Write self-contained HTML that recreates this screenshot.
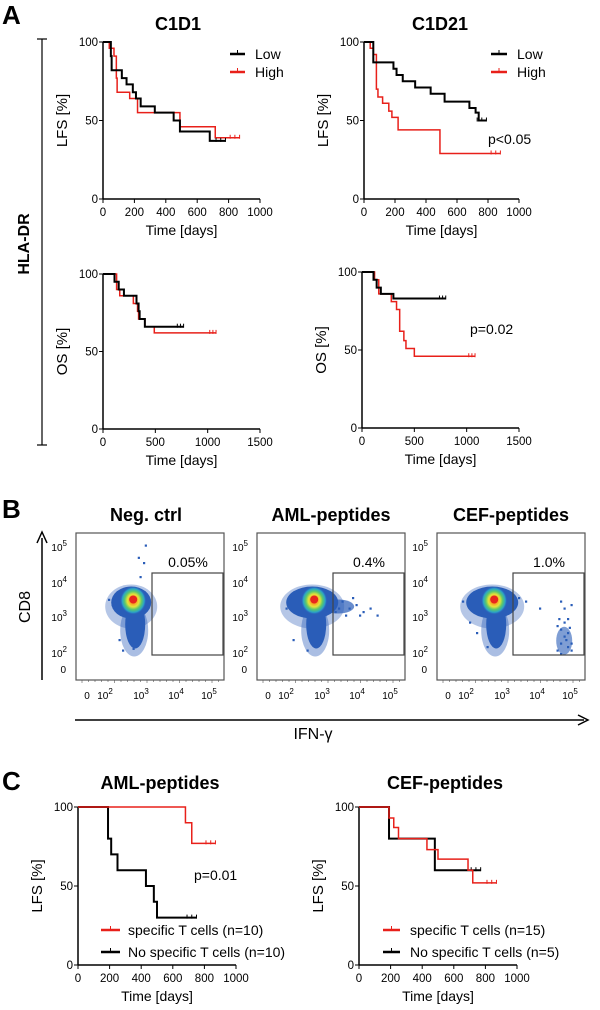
<!DOCTYPE html>
<html><head><meta charset="utf-8"><style>
body{margin:0;background:#fff}
svg{display:block;font-family:"Liberation Sans",Arial,sans-serif}
</style></head><body>
<svg id="fig" width="600" height="1010" viewBox="0 0 600 1010" xmlns="http://www.w3.org/2000/svg">
<defs>
<radialGradient id="core" cx="50%" cy="50%" r="50%">
<stop offset="0" stop-color="#e8261c"/><stop offset="0.25" stop-color="#f5a623"/><stop offset="0.45" stop-color="#e6e23a"/><stop offset="0.65" stop-color="#5cc86b"/><stop offset="0.85" stop-color="#2aa3c8"/><stop offset="1" stop-color="#2a66c0" stop-opacity="0"/>
</radialGradient>
</defs>
<g font-weight="bold">
<text x="2" y="24" font-size="26">A</text>
<text x="2" y="518" font-size="26">B</text>
<text x="2" y="790" font-size="26">C</text>
<text x="178" y="30" font-size="18" text-anchor="middle">C1D1</text>
<text x="440" y="30" font-size="18" text-anchor="middle">C1D21</text>
<text x="146" y="521" font-size="18" text-anchor="middle">Neg. ctrl</text>
<text x="331" y="521" font-size="18" text-anchor="middle">AML-peptides</text>
<text x="511" y="521" font-size="18" text-anchor="middle">CEF-peptides</text>
<text x="160" y="789" font-size="18" text-anchor="middle">AML-peptides</text>
<text x="445" y="789" font-size="18" text-anchor="middle">CEF-peptides</text>
<text transform="translate(29,244) rotate(-90)" font-size="16" text-anchor="middle">HLA-DR</text>
</g>
<g stroke="#000" stroke-width="1.2">
<line x1="42" y1="39" x2="42" y2="445"/><line x1="37" y1="39" x2="47" y2="39"/><line x1="37" y1="445" x2="47" y2="445"/>
</g>
<g id="km"></g>
<g id="flow"></g>
<g>
<line x1="42" y1="680" x2="42" y2="538" stroke="#000" stroke-width="1.5"/>
<path d="M37,543 L42,532 L47,543" fill="none" stroke="#000" stroke-width="1.5"/>
<text transform="translate(30,607) rotate(-90)" font-size="16" text-anchor="middle">CD8</text>
</g>
<g>
<line x1="75" y1="720" x2="584" y2="720" stroke="#000" stroke-width="1.5"/>
<path d="M578,715 L588,720 L578,725" fill="none" stroke="#000" stroke-width="1.5"/>
<text x="313" y="739" font-size="16" text-anchor="middle">IFN-γ</text>
</g>
</svg>
<script>
const NS='http://www.w3.org/2000/svg';
// ---- KM data: [day, survival%] steps ----
const c1d1LfsLow=[[50,91],[55,82],[120,77],[150,73],[190,68],[210,64],[240,59],[330,55],[450,50],[490,43],[680,37]];
const c1d1LfsHigh=[[40,96],[70,91],[85,77],[90,68],[170,64],[220,55],[490,46],[715,39]];
const c1d1LfsLowEnd=780, c1d1LfsHighEnd=870;
const c1d21LfsLow=[[60,87],[190,83],[210,79],[250,75],[330,71],[430,67],[520,62],[680,58],[720,55],[740,50]];
const c1d21LfsHigh=[[40,96],[60,92],[80,70],[90,65],[120,61],[160,56],[180,52],[220,44],[490,29]];
const c1d21LfsLowEnd=790, c1d21LfsHighEnd=880;
const c1d1OsLow=[[110,95],[150,90],[200,86],[320,81],[340,76],[350,71],[400,66]];
const c1d1OsHigh=[[130,90],[160,86],[290,81],[330,76],[340,71],[400,66],[490,62]];
const c1d1OsLowEnd=770, c1d1OsHighEnd=1080;
const c1d21OsLow=[[110,95],[140,90],[180,86],[300,83]];
const c1d21OsHigh=[[120,95],[160,86],[280,81],[330,76],[360,62],[400,56],[420,51],[500,46]];
const c1d21OsLowEnd=800, c1d21OsHighEnd=1080;
const amlSpec=[[680,90],[720,77]], amlNoSpec=[[190,80],[210,70],[250,60],[430,50],[480,40],[500,30]];
const amlSpecEnd=870, amlNoSpecEnd=750;
const cefSpec=[[190,93],[220,87],[250,80],[430,73],[500,67],[690,60],[720,52]], cefNoSpec=[[190,80],[480,60]];
const cefSpecEnd=870, cefNoSpecEnd=770;
const lfsTicks=[0,200,400,600,800,1000], osTicks=[0,500,1000,1500], yTicks=[0,50,100];

const km=document.getElementById('km');
function mk(tag,attrs,parent){const e=document.createElementNS(NS,tag);for(const k in attrs)e.setAttribute(k,attrs[k]);(parent||km).appendChild(e);return e;}
function txt(x,y,s,size,anchor,parent){const t=mk('text',{x:x,y:y,'font-size':size,'text-anchor':anchor||'start'},parent);t.textContent=s;return t;}

function kmPlot(name,x0,x1,xmax,y100,y0,xt,ylab,series){
  const g=mk('g',{});
  
  
  const X=d=>x0+(x1-x0)*d/xmax, Y=s=>y0+(y100-y0)*s/100;
  mk('line',{x1:x0,y1:y100,x2:x0,y2:y0,stroke:'#000','stroke-width':1.5},g);
  mk('line',{x1:x0,y1:y0,x2:x1,y2:y0,stroke:'#000','stroke-width':1.5},g);
  yTicks.forEach(v=>{mk('line',{x1:x0-4,y1:Y(v),x2:x0,y2:Y(v),stroke:'#000'},g);txt(x0-5,Y(v)+4,String(v),11.5,'end',g);});
  xt.forEach(v=>{mk('line',{x1:X(v),y1:y0,x2:X(v),y2:y0+4,stroke:'#000'},g);txt(X(v),y0+17,String(v),11.5,'middle',g);});
  txt((x0+x1)/2,y0+36,'Time [days]',14,'middle',g);
  const yl=txt(0,0,ylab,15,'middle',g);yl.setAttribute('transform','translate('+(x0-36)+','+((y0+y100)/2)+') rotate(-90)');
  series.forEach(s=>{
    let d='M'+X(0)+','+Y(100);
    s.pts.forEach(p=>{d+=' H'+X(p[0])+' V'+Y(p[1]);});
    const last=s.pts[s.pts.length-1][1];
    d+=' H'+X(s.end);
    const p=mk('path',{d:d,fill:'none',stroke:s.color,'stroke-width':s.color==='#000'?2:1.5},g);
    
    
    [s.end-60,s.end-30,s.end].forEach(c=>{mk('line',{x1:X(c),y1:Y(last)-3,x2:X(c),y2:Y(last)+1,stroke:s.color,'stroke-width':1},g);});
  });
  return g;
}
kmPlot('c1d1-lfs-chart',103,260,1000,42,199,lfsTicks,'LFS [%]',[{pts:c1d1LfsHigh,end:c1d1LfsHighEnd,color:'#e8201a',name:'c1d1-lfs-high-line'},{pts:c1d1LfsLow,end:c1d1LfsLowEnd,color:'#000',name:'c1d1-lfs-low-line'}]);
kmPlot('c1d21-lfs-chart',364,519,1000,42,199,lfsTicks,'LFS [%]',[{pts:c1d21LfsHigh,end:c1d21LfsHighEnd,color:'#e8201a',name:'c1d21-lfs-high-line'},{pts:c1d21LfsLow,end:c1d21LfsLowEnd,color:'#000',name:'c1d21-lfs-low-line'}]);
kmPlot('c1d1-os-chart',103,260,1500,274,429,osTicks,'OS [%]',[{pts:c1d1OsHigh,end:c1d1OsHighEnd,color:'#e8201a',name:'c1d1-os-high-line'},{pts:c1d1OsLow,end:c1d1OsLowEnd,color:'#000',name:'c1d1-os-low-line'}]);
kmPlot('c1d21-os-chart',362,519,1500,272,428,osTicks,'OS [%]',[{pts:c1d21OsHigh,end:c1d21OsHighEnd,color:'#e8201a',name:'c1d21-os-high-line'},{pts:c1d21OsLow,end:c1d21OsLowEnd,color:'#000',name:'c1d21-os-low-line'}]);
kmPlot('aml-lfs-chart',78,236,1000,807,965,lfsTicks,'LFS [%]',[{pts:amlNoSpec,end:amlNoSpecEnd,color:'#000',name:'aml-no-specific-line'},{pts:amlSpec,end:amlSpecEnd,color:'#e8201a',name:'aml-specific-line'}]);
kmPlot('cef-lfs-chart',359,517,1000,807,965,lfsTicks,'LFS [%]',[{pts:cefNoSpec,end:cefNoSpecEnd,color:'#000',name:'cef-no-specific-line'},{pts:cefSpec,end:cefSpecEnd,color:'#e8201a',name:'cef-specific-line'}]);

function legend(name,x1,x2,tx,y,color,label){
  const g=mk('g',{});
  
  
  mk('line',{x1:x1,y1:y,x2:x2,y2:y,stroke:color,'stroke-width':2.5},g);
  mk('line',{x1:(x1+x2)/2,y1:y-4,x2:(x1+x2)/2,y2:y,stroke:color,'stroke-width':1},g);
  txt(tx,y+5,label,14,'start',g);
}
legend('legend-low-c1d1',230,245,255,54,'#000','Low');
legend('legend-high-c1d1',230,245,255,72,'#e8201a','High');
legend('legend-low-c1d21',491,507,517,54,'#000','Low');
legend('legend-high-c1d21',491,507,517,72,'#e8201a','High');
legend('legend-aml-specific',101,120,128,930,'#e8201a','specific T cells (n=10)');
legend('legend-aml-no-specific',101,120,128,952,'#000','No specific T cells (n=10)');
legend('legend-cef-specific',383,400,410,930,'#e8201a','specific T cells (n=15)');
legend('legend-cef-no-specific',383,400,410,952,'#000','No specific T cells (n=5)');
[['p-value-c1d21-lfs',488,144,'p<0.05'],['p-value-c1d21-os',470,334,'p=0.02'],['p-value-aml',194,880,'p=0.01']].forEach(a=>{
  const t=txt(a[1],a[2],a[3],14,'start');
  
  
});

// ---- Flow plots ----
const flowNames=['neg-ctrl','aml-peptides','cef-peptides'];
const flowLefts=[76,257,437];
const gatePct=['0.05%','0.4%','1.0%'];
// sparse events [log10 IFN, log10 CD8]
const extraEvents=[[[2.0,3.55],[2.1,3.4],[2.3,2.4],[2.4,2.1],[2.9,4.2],[3.0,4.6],[2.85,4.75],[3.05,5.1],[2.7,2.15]],
 [[3.2,3.4],[3.4,3.3],[3.5,3.5],[3.7,3.3],[3.9,3.4],[4.1,3.2],[4.3,3.3],[3.3,3.2],[3.6,3.1],[4.0,3.1],[3.8,3.6],[4.5,3.1],[2.0,3.6],[1.9,3.3],[2.1,2.4],[2.5,2.1]],
 [[4.5,2.1],[4.6,2.3],[4.7,2.5],[4.8,2.2],[4.6,2.7],[4.7,2.9],[4.8,2.6],[4.9,2.3],[4.5,2.8],[4.7,3.3],[4.6,3.5],[4.8,3.0],[4.9,2.1],[4.6,2.0],[4.75,2.4],[4.85,2.75],[3.6,3.5],[4.0,3.3],[3.4,3.6],[1.8,3.5],[2.0,2.9],[2.2,2.6],[2.5,2.2],[4.9,3.4],[4.55,3.0]]];
const flow=document.getElementById('flow');
flowNames.forEach((n,i)=>{
  const L=flowLefts[i];
  const g=mk('g',{},flow);
  
  
  const FX=v=>L+32+(v-2)*35, FY=v=>653-(v-2)*35;
  mk('rect',{x:L,y:533,width:148,height:147,fill:'#fff',stroke:'#555','stroke-width':1.2},g);
  const cx=FX(2.72), cy=FY(3.5);
  const bw=i===0?20:26;
  // halo
  mk('ellipse',{cx:cx-2,cy:cy+6,rx:bw+6,ry:22,fill:'#2a5db8',opacity:0.35},g);
  mk('ellipse',{cx:cx+1,cy:cy+30,rx:14,ry:26,fill:'#2a5db8',opacity:0.4},g);
  mk('ellipse',{cx:cx-2,cy:cy+2,rx:bw,ry:16,fill:'#2a5db8'},g);
  mk('ellipse',{cx:cx+2,cy:cy+24,rx:10,ry:24,fill:'#2a5db8'},g);
  if(i===1){mk('ellipse',{cx:cx+24,cy:cy+6,rx:16,ry:7,fill:'#2a5db8',opacity:0.7},g);}
  mk('ellipse',{cx:cx,cy:cy,rx:13,ry:14,fill:'url(#core)'},g);
  mk('ellipse',{cx:cx,cy:cy-1,rx:4,ry:4,fill:'#e8261c'},g);
  extraEvents[i].forEach(e=>{mk('rect',{x:FX(e[0]),y:FY(e[1]),width:2.2,height:2.2,fill:'#2a5db8'},g);});
  if(i===2){mk('ellipse',{cx:FX(4.72),cy:FY(2.35),rx:8,ry:14,fill:'#2a5db8',opacity:0.6},g);}
  const gx=L+76;
  mk('rect',{x:gx,y:573,width:71,height:82,fill:'none',stroke:'#444','stroke-width':1.2},g);
  txt(gx+36,567,gatePct[i],14,'middle',g);
  [[5,547],[4,583],[3,617],[2,653]].forEach(t=>{const tt=txt(L-9,t[1]+4,'10',10,'end',g);const s=mk('tspan',{dy:-5,'font-size':8},tt);s.textContent=t[0];});
  txt(L-10,673,'0',10,'end',g);
  [[0,11],[2,32],[3,68],[4,103],[5,136]].forEach(t=>{
    if(t[0]===0){txt(L+t[1],699,'0',10,'middle',g);}
    else{const tt=txt(L+t[1]-3,699,'10',10,'middle',g);const s=mk('tspan',{dy:-5,'font-size':8},tt);s.textContent=t[0];}
  });
  for(let k=0;k<22;k++){mk('line',{x1:L+6+k*6.5,y1:680,x2:L+6+k*6.5,y2:k%5===0?683:682,stroke:'#555','stroke-width':0.6},g);}
});
</script>
</body></html>
